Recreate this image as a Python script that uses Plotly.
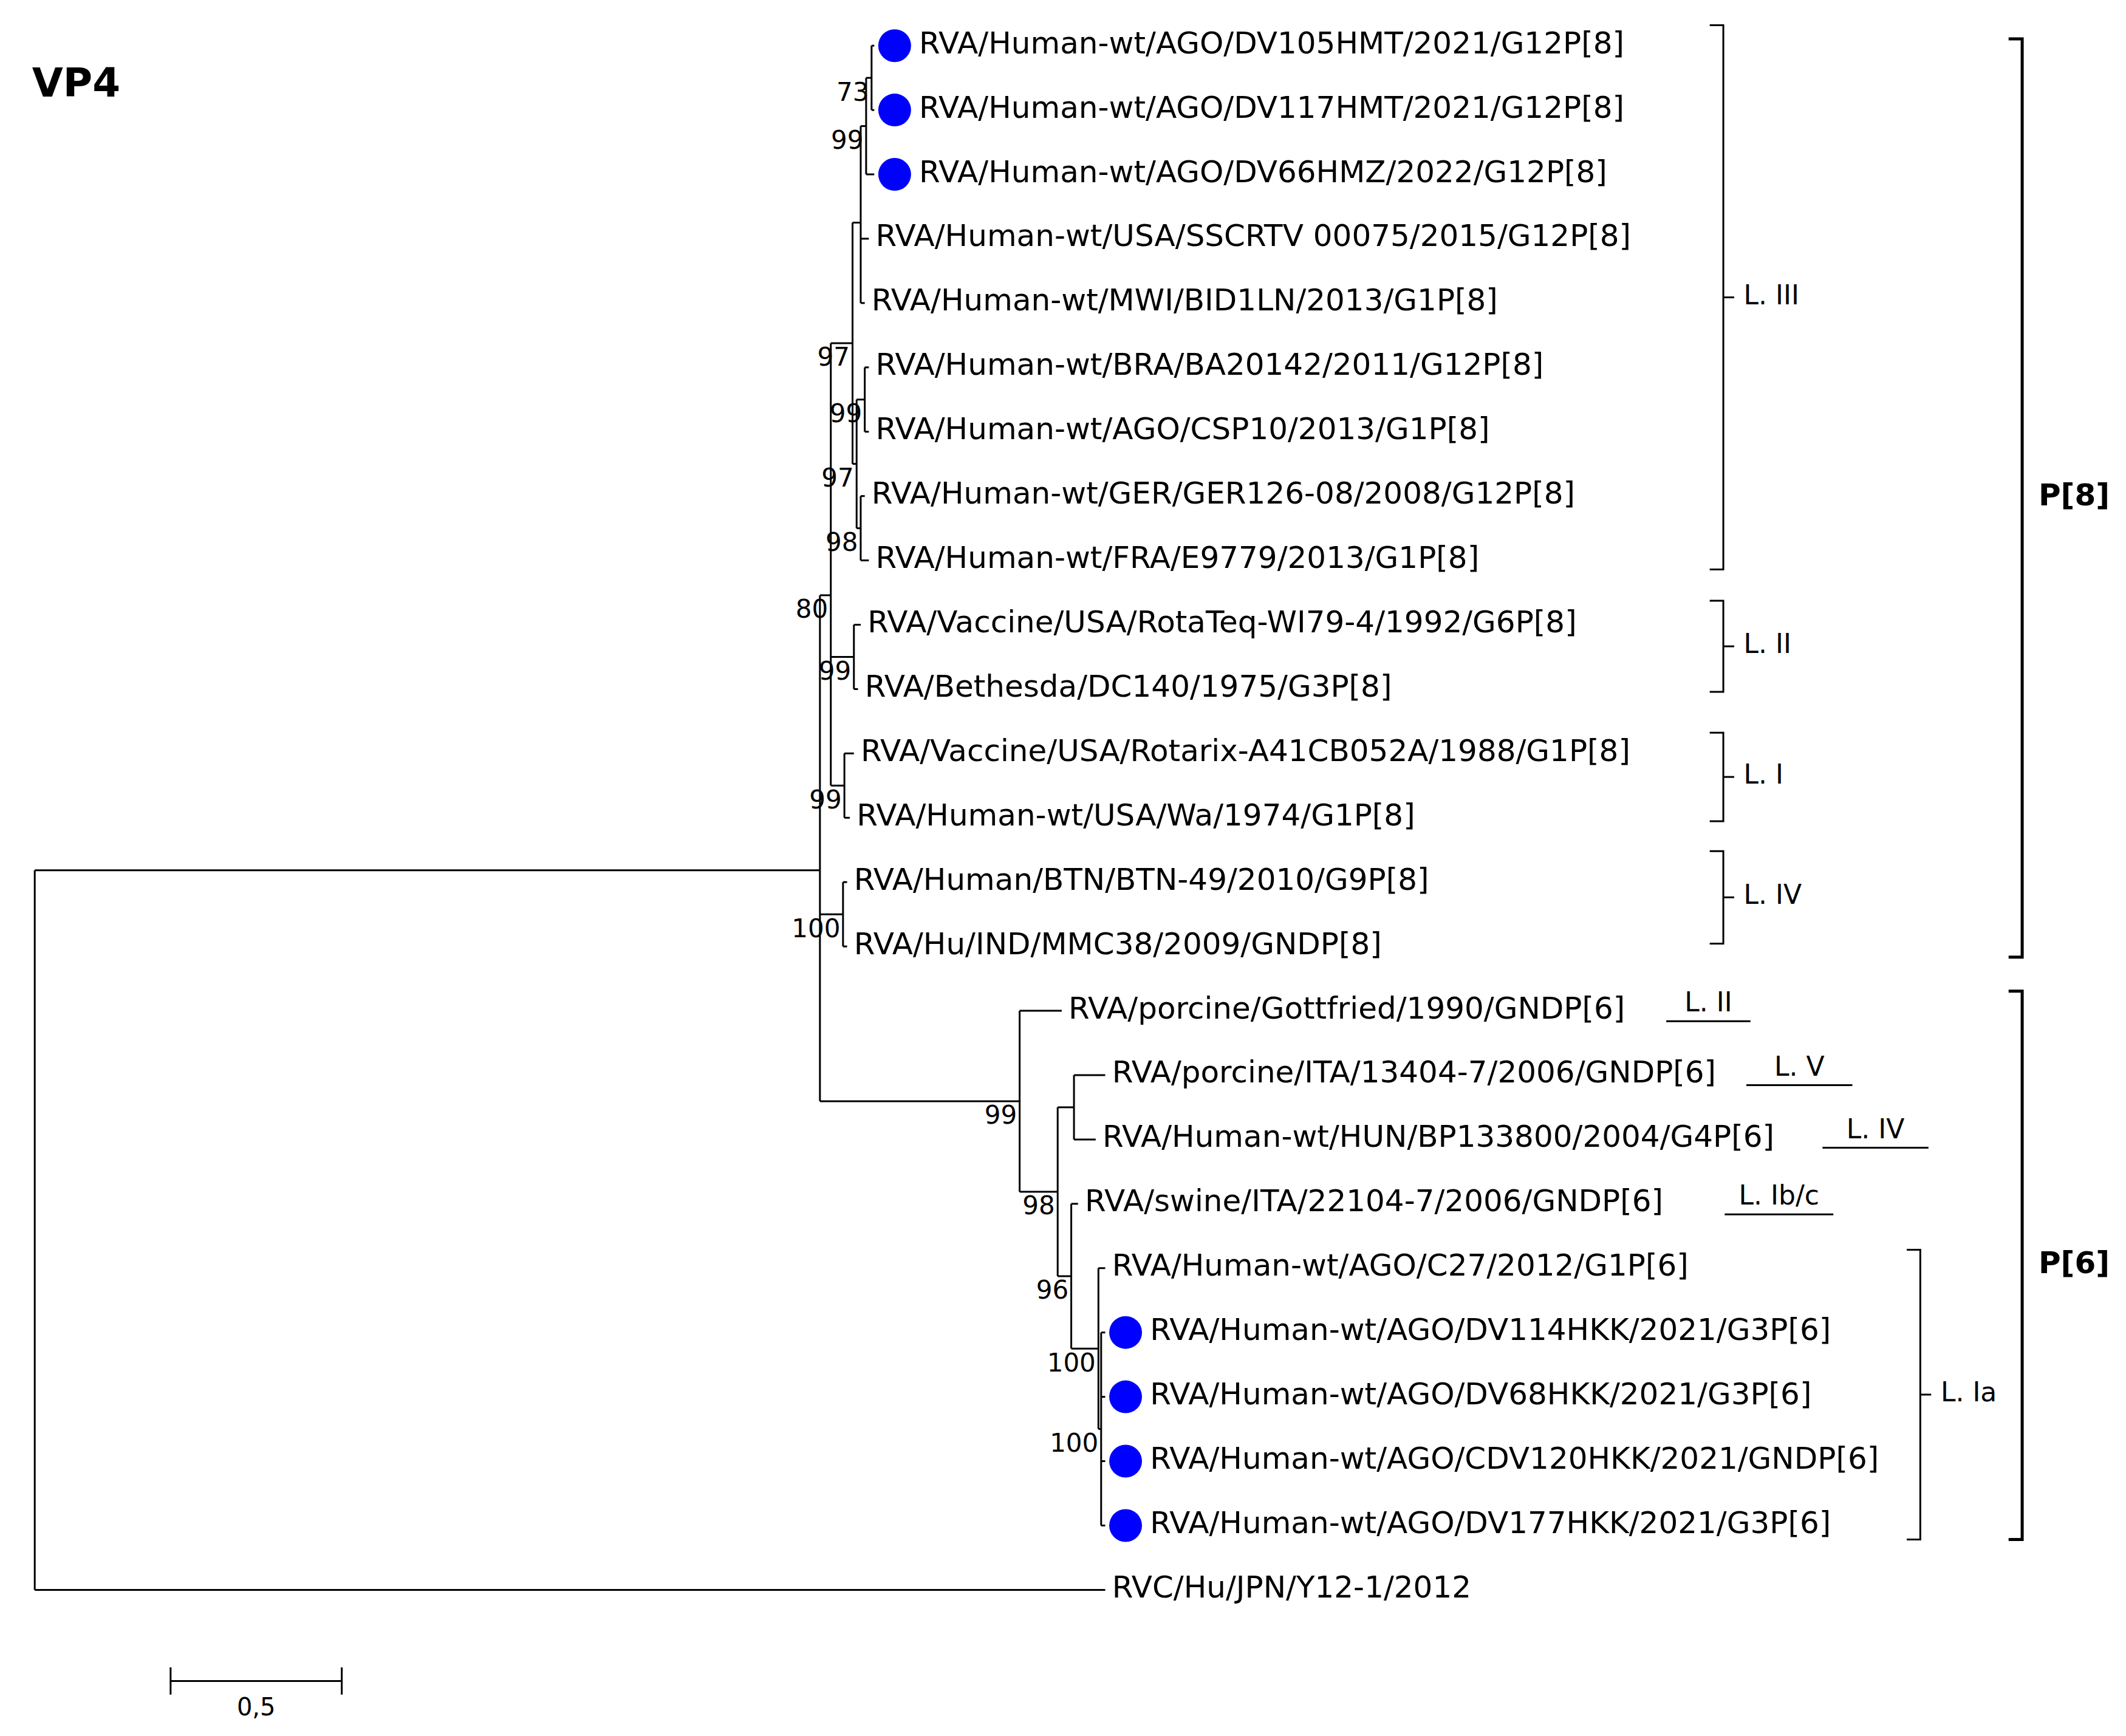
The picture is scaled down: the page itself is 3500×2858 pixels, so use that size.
import plotly.graph_objects as go

# leaves: names, tip x (picture units), and which carry a blue dot
leaf_names = [
    "RVA/Human-wt/AGO/DV105HMT/2021/G12P[8]",
    "RVA/Human-wt/AGO/DV117HMT/2021/G12P[8]",
    "RVA/Human-wt/AGO/DV66HMZ/2022/G12P[8]",
    "RVA/Human-wt/USA/SSCRTV 00075/2015/G12P[8]",
    "RVA/Human-wt/MWI/BID1LN/2013/G1P[8]",
    "RVA/Human-wt/BRA/BA20142/2011/G12P[8]",
    "RVA/Human-wt/AGO/CSP10/2013/G1P[8]",
    "RVA/Human-wt/GER/GER126-08/2008/G12P[8]",
    "RVA/Human-wt/FRA/E9779/2013/G1P[8]",
    "RVA/Vaccine/USA/RotaTeq-WI79-4/1992/G6P[8]",
    "RVA/Bethesda/DC140/1975/G3P[8]",
    "RVA/Vaccine/USA/Rotarix-A41CB052A/1988/G1P[8]",
    "RVA/Human-wt/USA/Wa/1974/G1P[8]",
    "RVA/Human/BTN/BTN-49/2010/G9P[8]",
    "RVA/Hu/IND/MMC38/2009/GNDP[8]",
    "RVA/porcine/Gottfried/1990/GNDP[6]",
    "RVA/porcine/ITA/13404-7/2006/GNDP[6]",
    "RVA/Human-wt/HUN/BP133800/2004/G4P[6]",
    "RVA/swine/ITA/22104-7/2006/GNDP[6]",
    "RVA/Human-wt/AGO/C27/2012/G1P[6]",
    "RVA/Human-wt/AGO/DV114HKK/2021/G3P[6]",
    "RVA/Human-wt/AGO/DV68HKK/2021/G3P[6]",
    "RVA/Human-wt/AGO/CDV120HKK/2021/GNDP[6]",
    "RVA/Human-wt/AGO/DV177HKK/2021/G3P[6]",
    "RVC/Hu/JPN/Y12-1/2012",
]
leaf_x = [640, 640, 640, 636, 633, 636, 636, 633, 636, 630, 628, 625, 622, 620, 620,
          778, 810, 803, 790, 810, 810, 810, 810, 810, 810]
dotted = [0, 1, 2, 20, 21, 22, 23]

# internal nodes: name -> (x, children, bootstrap)
nodes = {
    "a1": (638, [0, 1], "73"),
    "a2": (634, ["a1", 2], "99"),
    "c": (630, ["a2", 3, 4], ""),
    "b1": (633, [5, 6], "99"),
    "b2": (630, [7, 8], "98"),
    "b": (627, ["b1", "b2"], "97"),
    "III": (624, ["c", "b"], "97"),
    "II": (625, [9, 10], "99"),
    "I": (618, [11, 12], "99"),
    "n80": (608, ["III", "II", "I"], "80"),
    "IV": (617, [13, 14], "100"),
    "h": (807, [20, 21, 22, 23], "100"),
    "g": (805, [19, "h"], "100"),
    "f": (785, [18, "g"], "96"),
    "e": (787, [16, 17], ""),
    "d": (775, ["e", "f"], "98"),
    "P6": (747, [15, "d"], "99"),
    "A": (600, ["n80", "IV", "P6"], ""),
    "root": (22, ["A", 24], ""),
}

row_y = [30 + i * (1165 - 30) / 24 for i in range(len(leaf_names))]

pos = {}
def place(n):
    if isinstance(n, int):
        pos[n] = (leaf_x[n], row_y[n])
        return pos[n]
    x, ch, _ = nodes[n]
    ys = [place(c)[1] for c in ch]
    pos[n] = (x, sum(ys) / len(ys))
    return pos[n]
place("root")

lx, ly = [], []
for n, (x, ch, _) in nodes.items():
    ys = [pos[c][1] for c in ch]
    lx += [x, x, None]; ly += [min(ys), max(ys), None]
    for c in ch:
        lx += [x, pos[c][0], None]; ly += [pos[c][1], pos[c][1], None]

fig = go.Figure()
fig.add_trace(go.Scatter(x=lx, y=ly, mode="lines", line=dict(color="black", width=3),
                         hoverinfo="skip"))
# dots
fig.add_trace(go.Scatter(x=[leaf_x[i] + 15 for i in dotted], y=[row_y[i] for i in dotted],
                         mode="markers", marker=dict(color="#0000ff", size=54)))
# labels
fig.add_trace(go.Scatter(
    x=[leaf_x[i] + (33 if i in dotted else 5) for i in range(len(leaf_names))],
    y=row_y, text=leaf_names, mode="text", textposition="middle right",
    textfont=dict(family="DejaVu Sans", size=50, color="black")))
bs = [(n, v) for n, (x, ch, v) in nodes.items() if v]
fig.add_trace(go.Scatter(x=[pos[n][0] - 2 for n, v in bs], y=[pos[n][1] + 12 for n, v in bs],
                         text=[v for n, v in bs], mode="text", textposition="middle left",
                         textfont=dict(family="DejaVu Sans", size=42, color="black")))

# lineage brackets: label, x, top, bottom
brackets = [("L. III", 1265, 15, 415), ("L. II", 1265, 438, 505), ("L. I", 1265, 535, 600),
            ("L. IV", 1265, 622, 690), ("L. Ia", 1410, 915, 1128)]
bx, by = [], []
for lab, x, t, b in brackets:
    bx += [x - 10, x, x, x - 10, None, x, x + 8, None]
    by += [t, t, b, b, None, (t + b) / 2, (t + b) / 2, None]
# underlined lineages: label, x0, x1, y
underlined = [("L. II", 1223, 1285, 738), ("L. V", 1282, 1360, 785),
              ("L. IV", 1338, 1416, 831), ("L. Ib/c", 1266, 1346, 880)]
for lab, x0, x1, y in underlined:
    bx += [x0, x1, None]; by += [y + 9, y + 9, None]
fig.add_trace(go.Scatter(x=bx, y=by, mode="lines", line=dict(color="black", width=3)))
fig.add_trace(go.Scatter(x=[x + 15 for _, x, _, _ in brackets], y=[(t + b) / 2 for _, _, t, b in brackets],
                         text=[l for l, *_ in brackets], mode="text", textposition="middle right",
                         textfont=dict(family="DejaVu Sans", size=44, color="black")))
fig.add_trace(go.Scatter(x=[(a + b) / 2 for _, a, b, _ in underlined], y=[y - 3 for *_, y in underlined],
                         text=[l for l, *_ in underlined], mode="text", textposition="middle center",
                         textfont=dict(family="DejaVu Sans", size=44, color="black")))

# genotype brackets
geno = [("P[8]", 1485, 25, 700), ("P[6]", 1485, 725, 1128)]
gx, gy = [], []
for lab, x, t, b in geno:
    gx += [x - 10, x, x, x - 10, None]; gy += [t, t, b, b, None]
fig.add_trace(go.Scatter(x=gx, y=gy, mode="lines", line=dict(color="black", width=5)))
fig.add_trace(go.Scatter(x=[x + 12 for _, x, _, _ in geno], y=[(t + b) / 2 for *_, t, b in geno],
                         text=["<b>%s</b>" % l for l, *_ in geno], mode="text", textposition="middle right",
                         textfont=dict(family="DejaVu Sans", size=50, color="black")))

# scale bar
fig.add_trace(go.Scatter(x=[122, 248, None, 122, 122, None, 248, 248],
                         y=[1232, 1232, None, 1222, 1242, None, 1222, 1242],
                         mode="lines", line=dict(color="black", width=3)))
fig.add_trace(go.Scatter(x=[185, 20], y=[1253, 60], text=["0,5", "<b>VP4</b>"], mode="text",
                         textposition=["middle center", "middle right"],
                         textfont=dict(family="DejaVu Sans", size=[40, 66], color="black")))

fig.update_layout(width=3500, height=2858, showlegend=False, plot_bgcolor="white",
                  paper_bgcolor="white", margin=dict(l=0, r=0, t=0, b=0),
                  xaxis=dict(range=[0, 1565], visible=False),
                  yaxis=dict(range=[1276, 0], visible=False))
fig.write_html("out.html")
